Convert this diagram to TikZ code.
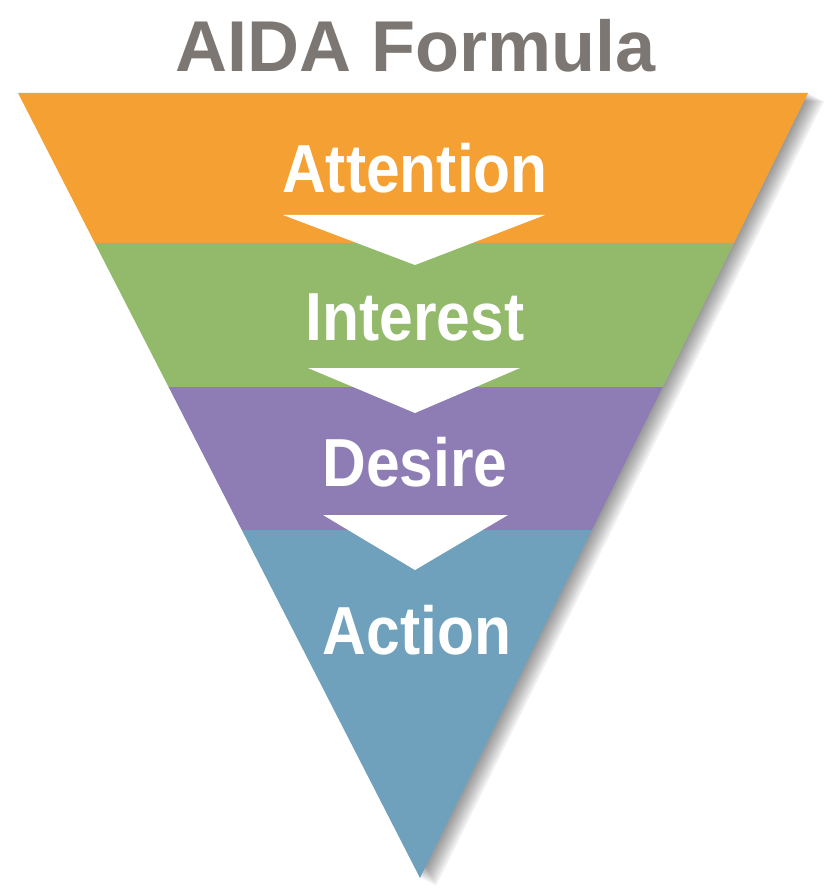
\documentclass[tikz,border=0pt]{standalone}
\usepackage{fontspec}
\setmainfont{Liberation Sans}
\definecolor{attorange}{HTML}{F5A033}
\definecolor{intgreen}{HTML}{93BA6B}
\definecolor{despurple}{HTML}{8E7DB4}
\definecolor{actblue}{HTML}{6FA1BD}
\definecolor{titlegray}{HTML}{7D7773}
\begin{document}
\begin{tikzpicture}[x=1pt,y=-1pt,
    stage/.style={text=white,font=\fontsize{68}{80}\selectfont\bfseries,xscale=0.89},
    flowstep/.style={fill=white}]
    \useasboundingbox (0,0) rectangle (832,890);

    % shadow
    \foreach \s in {2,4,...,16}
        \fill[black,opacity=0.06] (18+\s,93+\s/2) -- (808+\s,93+\s/2) -- (420+\s,878+\s/2) -- cycle;

    % bands
    \fill[attorange] (18,93) -- (808,93) -- (733.9,243) -- (94.8,243) -- cycle;
    \fill[intgreen] (94.8,243) -- (733.9,243) -- (662.7,387) -- (168.6,387) -- cycle;
    \fill[despurple] (168.6,387) -- (662.7,387) -- (592,530) -- (241.8,530) -- cycle;
    \fill[actblue] (241.8,530) -- (592,530) -- (420,878) -- cycle;

    % arrows
    \fill[flowstep] (283,215) -- (545,215) -- (415,265) -- cycle;
    \fill[flowstep] (308,368) -- (520,368) -- (415,413) -- cycle;
    \fill[flowstep] (323,515) -- (508,515) -- (415,570) -- cycle;

    % labels
    \node[text=titlegray,font=\fontsize{72}{86}\selectfont\bfseries] (title) at (416,46) {AIDA Formula};
    \node[stage] (attention) at (415,168) {Attention};
    \node[stage] (interest) at (415,317) {Interest};
    \node[stage] (desire) at (415,462) {Desire};
    \node[stage] (action) at (417,630) {Action};
\end{tikzpicture}
\end{document}
